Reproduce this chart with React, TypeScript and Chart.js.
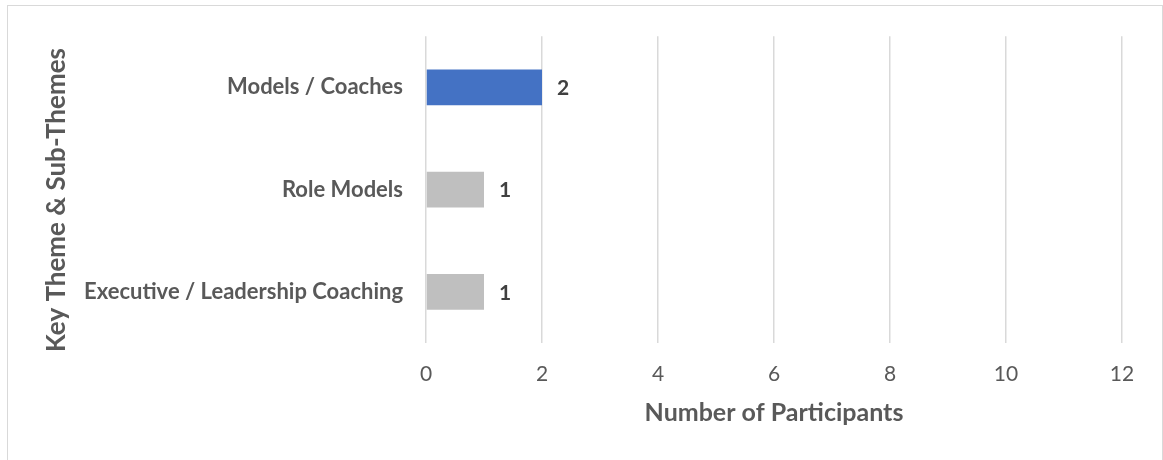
import React, { useEffect, useRef } from "react";
import { Chart, registerables } from "chart.js";

Chart.register(...registerables);

const categories = ["Models / Coaches", "Role Models", "Executive / Leadership Coaching"];
const participants = [2, 1, 1];
const barColors = ["#4472C4", "#BFBFBF", "#BFBFBF"];
const xTicks = [0, 2, 4, 6, 8, 10, 12];
const xTitle = "Number of Participants";
const yTitle = "Key Theme & Sub-Themes";

const FONT = 'Lato, "Open Sans", sans-serif';

const dataLabelPlugin = {
  id: "dataLabels",
  afterDatasetsDraw(chart: any) {
    const ctx = chart.ctx;
    const meta = chart.getDatasetMeta(0);
    ctx.save();
    ctx.font = `bold 21px ${FONT}`;
    ctx.fillStyle = "#404040";
    ctx.textAlign = "left";
    ctx.textBaseline = "middle";
    meta.data.forEach((bar: any, i: number) => {
      ctx.fillText(String(participants[i]), bar.x + 15, bar.y + 1);
    });
    ctx.restore();
  },
};

const yTitlePlugin = {
  id: "yTitle",
  afterDraw(chart: any) {
    const ctx = chart.ctx;
    ctx.save();
    ctx.translate(57, 200);
    ctx.rotate(-Math.PI / 2);
    ctx.font = `bold 26px ${FONT}`;
    ctx.fillStyle = "#595959";
    ctx.textAlign = "center";
    ctx.textBaseline = "middle";
    ctx.fillText(yTitle, 0, 0);
    ctx.restore();
  },
};

export default function App() {
  const ref = useRef<HTMLCanvasElement>(null);
  useEffect(() => {
    document.body.style.margin = "0";
    const canvas = ref.current!;
    const chart = new Chart(canvas, {
      type: "bar",
      data: {
        labels: categories,
        datasets: [
          {
            data: participants,
            backgroundColor: barColors,
            barPercentage: 0.35,
            categoryPercentage: 1,
          },
        ],
      },
      options: {
        indexAxis: "y",
        animation: false,
        responsive: false,
        maintainAspectRatio: false,
        layout: { padding: { top: 34, right: 41, left: 0, bottom: 0 } },
        plugins: { legend: { display: false }, tooltip: { enabled: false } },
        scales: {
          x: {
            min: 0,
            max: 12,
            afterBuildTicks: (scale: any) => {
              scale.ticks = xTicks.map((v) => ({ value: v }));
            },
            afterFit: (scale: any) => {
              scale.height = 117;
            },
            grid: { color: "#D9D9D9", lineWidth: 1.5, drawTicks: false },
            border: { display: false },
            ticks: {
              padding: 19,
              color: "#595959",
              font: { family: FONT, size: 21 },
            },
            title: {
              display: true,
              text: xTitle,
              color: "#595959",
              font: { family: FONT, size: 25, weight: "bold" },
              padding: { top: 0, bottom: 32 },
            },
          },
          y: {
            afterFit: (scale: any) => {
              scale.width = 426;
            },
            grid: { display: false, drawTicks: false },
            border: { display: false },
            ticks: {
              padding: 23,
              color: "#595959",
              font: { family: FONT, size: 22, weight: "bold" },
            },
            title: { display: false },
          },
        },
      },
      plugins: [dataLabelPlugin, yTitlePlugin],
    });
    return () => chart.destroy();
  }, []);

  return (
    <div style={{ position: "fixed", left: 0, top: 0, width: 1163, height: 460, overflow: "hidden", background: "#fff" }}>
      <div
        style={{
          position: "absolute",
          left: 7,
          top: 5,
          width: 1154,
          height: 470,
          border: "1px solid #D9D9D9",
        }}
      />
      <canvas ref={ref} width={1163} height={460} style={{ position: "absolute", left: 0, top: 0 }} />
    </div>
  );
}
